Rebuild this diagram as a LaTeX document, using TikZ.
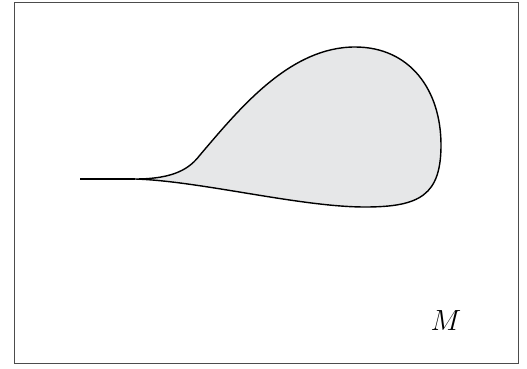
\documentclass[tikz,border=0pt]{standalone}
\usepackage{amsmath,amssymb}
\usepackage{xcolor}
\definecolor{lobegray}{HTML}{E6E7E8}

\begin{document}
\begin{tikzpicture}[
  x=0.03cm, y=-0.03cm,
  frame/.style={draw=black!70, line width=0.8pt},
  outline/.style={line width=1.2pt, line join=round},
  lab/.style={font=\fontsize{24}{28}\selectfont}
]
\useasboundingbox (0,0) rectangle (527,369);
\draw[frame] (14,2) rectangle (518,363);
% the lobe
\coordinate (tail) at (80,179);
\coordinate (cusp) at (135,179);
\filldraw[outline, fill=lobegray] (cusp)
  .. controls (175,179) and (190,168) .. (200,155)
  .. controls (240,108) and (290,47) .. (355,47)
  .. controls (410,47) and (441,90) .. (441,145)
  .. controls (441,195) and (420,207) .. (365,207)
  .. controls (300,207) and (200,181) .. (cusp);
\draw[outline] (tail) -- (cusp);
\node[lab] (m) at (446,321) {$M$};
\end{tikzpicture}
\end{document}
